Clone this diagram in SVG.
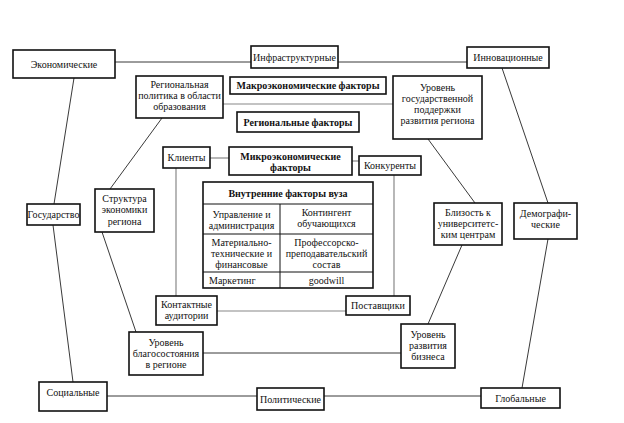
<svg xmlns="http://www.w3.org/2000/svg" width="624" height="423" viewBox="0 0 624 423">
<style>
.b{fill:#fff;stroke:#111;stroke-width:1.6}
.t{font-family:"Liberation Serif","Times New Roman",serif;font-size:10px;fill:#111;text-anchor:middle}
.bold{font-weight:bold}
.l{stroke:#222;stroke-width:0.9;fill:none}
.g{stroke:#888;stroke-width:1.2;fill:none}
.c{stroke:#111;stroke-width:1;fill:none}
</style>
<rect width="624" height="423" fill="#fff"/>
<g id="connectors">
<line class="l" x1="115" y1="62" x2="251" y2="62"/>
<line class="l" x1="338" y1="62" x2="467" y2="62"/>
<line class="l" x1="107" y1="396" x2="257" y2="396"/>
<line class="l" x1="324" y1="396" x2="481" y2="396"/>
<line class="l" x1="74" y1="78" x2="54" y2="204"/>
<line class="l" x1="53" y1="225" x2="73" y2="382"/>
<line class="l" x1="502" y1="68" x2="548" y2="203"/>
<line class="l" x1="548" y1="239" x2="522" y2="388"/>
<line class="l" x1="162" y1="118" x2="110" y2="189"/>
<line class="l" x1="102" y1="232" x2="136" y2="332"/>
<line class="l" x1="428" y1="139" x2="475" y2="203"/>
<line class="l" x1="462" y1="245" x2="428" y2="324"/>
<line class="l" x1="203" y1="353" x2="401" y2="353"/>
<line class="g" x1="223" y1="104" x2="393" y2="104"/>
<line class="g" x1="210" y1="158" x2="229" y2="158"/>
<line class="g" x1="352" y1="161" x2="359" y2="161"/>
<line class="g" x1="176" y1="168" x2="176" y2="296"/>
<line class="g" x1="394" y1="175" x2="394" y2="296"/>
<line class="g" x1="217" y1="311" x2="346" y2="311"/>
</g>
<g id="economic"><rect class="b" x="13" y="50" width="102" height="28"/><text class="t" x="64" y="67.5">Экономические</text></g>
<g id="infra"><rect class="b" x="251" y="46" width="87" height="22"/><text class="t" x="294.5" y="60.5">Инфраструктурные</text></g>
<g id="innov"><rect class="b" x="467" y="47" width="82" height="21"/><text class="t" x="508" y="61">Инновационные</text></g>
<g id="regpolicy"><rect class="b" x="136" y="76" width="87" height="42"/><text class="t" x="179.5" y="87.5">Региональная</text><text class="t" x="179.5" y="98.5">политика в области</text><text class="t" x="179.5" y="109.5">образования</text></g>
<g id="macro"><rect class="b" x="230" y="77" width="156" height="17"/><text class="t bold" x="308" y="89">Макроэкономические факторы</text></g>
<g id="gossupport"><rect class="b" x="393" y="76" width="89" height="63"/><text class="t" x="437.5" y="91">Уровень</text><text class="t" x="437.5" y="102">государственной</text><text class="t" x="437.5" y="113">поддержки</text><text class="t" x="437.5" y="124">развития региона</text></g>
<g id="regional"><rect class="b" x="237" y="112" width="122" height="20"/><text class="t bold" x="298" y="125.5">Региональные факторы</text></g>
<g id="clients"><rect class="b" x="163" y="147" width="47" height="21"/><text class="t" x="186.5" y="161">Клиенты</text></g>
<g id="micro"><rect class="b" x="229" y="147" width="123" height="28"/><text class="t bold" x="290.5" y="159.5">Микроэкономические</text><text class="t bold" x="290.5" y="170.5">факторы</text></g>
<g id="competitors"><rect class="b" x="359" y="156" width="62" height="19"/><text class="t" x="390" y="169">Конкуренты</text></g>
<g id="internal">
<rect class="b" x="203" y="182" width="170" height="106"/>
<line class="c" x1="203" y1="204" x2="373" y2="204"/>
<line class="c" x1="203" y1="234" x2="373" y2="234"/>
<line class="c" x1="203" y1="272" x2="373" y2="272"/>
<line class="c" x1="280" y1="204" x2="280" y2="288"/>
<text class="t bold" x="288" y="196.5">Внутренние факторы вуза</text>
<text class="t" x="241.5" y="218">Управление и</text><text class="t" x="241.5" y="229">администрация</text>
<text class="t" x="326.5" y="215.5">Контингент</text><text class="t" x="326.5" y="226.5">обучающихся</text>
<text class="t" x="241.5" y="245.5">Материально-</text><text class="t" x="241.5" y="256.5">технические и</text><text class="t" x="241.5" y="267.5">финансовые</text>
<text class="t" x="326.5" y="245.5">Профессорско-</text><text class="t" x="326.5" y="256.5">преподавательский</text><text class="t" x="326.5" y="267.5">состав</text>
<text class="t" x="209" y="283.5" text-anchor="start" style="text-anchor:start">Маркетинг</text>
<text class="t" x="326.5" y="283.5">goodwill</text>
</g>
<g id="contact"><rect class="b" x="156" y="296" width="61" height="29"/><text class="t" x="186.5" y="307.5">Контактные</text><text class="t" x="186.5" y="318.5">аудитории</text></g>
<g id="suppliers"><rect class="b" x="346" y="296" width="64" height="19"/><text class="t" x="378" y="309">Поставщики</text></g>
<g id="welfare"><rect class="b" x="129" y="332" width="74" height="43"/><text class="t" x="166" y="345.5">Уровень</text><text class="t" x="166" y="356.5">благосостояния</text><text class="t" x="166" y="367.5">в регионе</text></g>
<g id="business"><rect class="b" x="401" y="324" width="54" height="44"/><text class="t" x="428" y="337.5">Уровень</text><text class="t" x="428" y="348.5">развития</text><text class="t" x="428" y="359.5">бизнеса</text></g>
<g id="social"><rect class="b" x="39" y="382" width="68" height="29"/><text class="t" x="73" y="395.5">Социальные</text></g>
<g id="political"><rect class="b" x="257" y="388" width="67" height="22"/><text class="t" x="290.5" y="402.5">Политические</text></g>
<g id="global"><rect class="b" x="481" y="388" width="79" height="20"/><text class="t" x="520.5" y="401.5">Глобальные</text></g>
<g id="state"><rect class="b" x="27" y="204" width="53" height="21"/><text class="t" x="53.5" y="217.5">Государство</text></g>
<g id="structure"><rect class="b" x="95" y="189" width="59" height="43"/><text class="t" x="124.5" y="201.5">Структура</text><text class="t" x="124.5" y="213">экономики</text><text class="t" x="124.5" y="224.5">региона</text></g>
<g id="proximity"><rect class="b" x="434" y="203" width="68" height="42"/><text class="t" x="468" y="215.5">Близость к</text><text class="t" x="468" y="226.5">университетс-</text><text class="t" x="468" y="238">ким центрам</text></g>
<g id="demographic"><rect class="b" x="514" y="203" width="63" height="36"/><text class="t" x="545.5" y="216.5">Демографи-</text><text class="t" x="545.5" y="227.5">ческие</text></g>
</svg>
